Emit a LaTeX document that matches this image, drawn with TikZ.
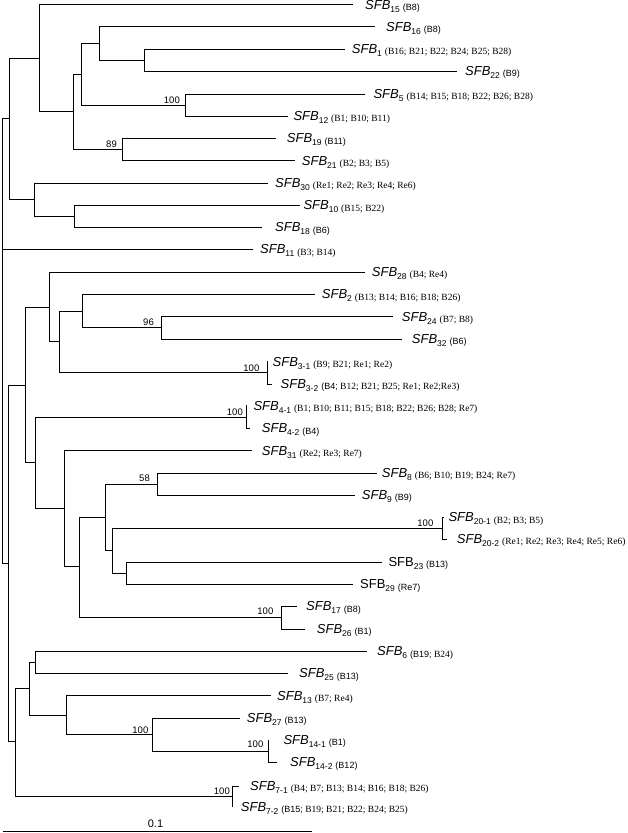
\documentclass[tikz,border=0pt]{standalone}
\usepackage{fontspec}
\setmainfont{Liberation Serif}
\setsansfont{Liberation Sans}
\newcommand{\Si}[1]{{\itshape SFB}\raisebox{-2.9pt}{\fontsize{8.5}{9}\selectfont #1}}
\newcommand{\Su}[1]{SFB\raisebox{-2.9pt}{\fontsize{8.5}{9}\selectfont #1}}
\newcommand{\pS}[1]{\hspace{3pt}\raisebox{-1.2pt}{\fontsize{9}{10}\selectfont\sffamily #1}}
\newcommand{\pR}[1]{\hspace{3pt}\raisebox{-1.2pt}{\fontsize{9.5}{10}\selectfont\rmfamily #1}}
\newcommand{\pRn}[1]{\hspace{2.4pt}\raisebox{-1.2pt}{\fontsize{9.5}{10}\selectfont\rmfamily #1}}
\newcommand{\leaf}[5]{\coordinate (#1) at (#2,#3); \node[lab] (t#1) at (#4,#3+4.6) {#5};}
\tikzset{
  br/.style={line width=0.9pt, line join=miter},
  lab/.style={anchor=base west, inner sep=0pt, font=\sffamily\fontsize{13}{14}\selectfont},
  bs/.style={anchor=base east, inner sep=0pt, font=\sffamily\fontsize{9.5}{10}\selectfont},
}
\begin{document}
\begin{tikzpicture}[x=1pt,y=-1pt]
\useasboundingbox (0,0) rectangle (627,833);
% leaves
\leaf{l15}{353.3}{4.5}{365}{\Si{15}\pS{(B8)}}
\leaf{l16}{375}{26.7}{386}{\Si{16}\pS{(B8)}}
\leaf{l1}{345}{49}{351.7}{\Si{1}\pR{(B16; B21; B22; B24; B25; B28)}}
\leaf{l22}{456.7}{71}{465}{\Si{22}\pS{(B9)}}
\leaf{l5}{365}{94}{373.3}{\Si{5}\pR{(B14; B15; B18; B22; B26; B28)}}
\leaf{l12}{288.3}{116}{293.3}{\Si{12}\pR{(B1; B10; B11)}}
\leaf{l19}{276}{138.3}{286.7}{\Si{19}\pS{(B11)}}
\leaf{l21}{295}{160.7}{301.7}{\Si{21}\pR{(B2; B3; B5)}}
\leaf{l30}{268.3}{183}{275}{\Si{30}\pR{(Re1; Re2; Re3; Re4; Re6)}}
\leaf{l10}{300}{205.3}{303.3}{\Si{10}\pR{(B15; B22)}}
\leaf{l18}{261.7}{227.3}{275}{\Si{18}\pS{(B6)}}
\leaf{l11}{253}{249.3}{260}{\Si{11}\pR{(B3; B14)}}
\leaf{l28}{365}{272}{371.7}{\Si{28}\pR{(B4; Re4)}}
\leaf{l2}{315}{294.3}{321.7}{\Si{2}\pR{(B13; B14; B16; B18; B26)}}
\leaf{l24}{393.3}{316.7}{401.7}{\Si{24}\pR{(B7; B8)}}
\leaf{l32}{401.7}{339}{411.7}{\Si{32}\pS{(B6)}}
\leaf{l3a}{267.5}{361.7}{272.5}{\Si{3-1}\pR{(B9; B21; Re1; Re2)}}
\leaf{l3b}{271.7}{384}{280.5}{\Si{3-2}\pS{(B4;}\pRn{B12; B21; B25; Re1; Re2;Re3)}}
\leaf{l4a}{246.5}{405.7}{253.3}{\Si{4-1}\pR{(B1; B10; B11; B15; B18; B22; B26; B28; Re7)}}
\leaf{l4b}{250}{428.3}{261.7}{\Si{4-2}\pS{(B4)}}
\leaf{l31}{251.7}{450.7}{261.7}{\Si{31}\pR{(Re2; Re3; Re7)}}
\leaf{l8}{376.7}{473}{381.7}{\Si{8}\pR{(B6; B10; B19; B24; Re7)}}
\leaf{l9}{355}{495}{361.7}{\Si{9}\pS{(B9)}}
\leaf{l20a}{443.5}{517.3}{448.3}{\Si{20-1}\pR{(B2; B3; B5)}}
\leaf{l20b}{446.7}{539}{456.7}{\Si{20-2}\pR{(Re1; Re2; Re3; Re4; Re5; Re6)}}
\leaf{l23}{381.7}{562}{388.3}{\Su{23}\pS{(B13)}}
\leaf{l29}{353.3}{584.3}{360}{\Su{29}\pS{(Re7)}}
\leaf{l17}{296.7}{606.3}{306}{\Si{17}\pS{(B8)}}
\leaf{l26}{305}{629}{316.7}{\Si{26}\pS{(B1)}}
\leaf{l6}{367}{651.3}{377}{\Si{6}\pS{(B19;}\pRn{B24)}}
\leaf{l25}{288.3}{673.3}{299}{\Si{25}\pS{(B13)}}
\leaf{l13}{271}{695.7}{277}{\Si{13}\pR{(B7; Re4)}}
\leaf{l27}{240}{718}{246.7}{\Si{27}\pS{(B13)}}
\leaf{l14a}{268.5}{740}{283.3}{\Si{14-1}\pS{(B1)}}
\leaf{l14b}{276.7}{762.3}{290}{\Si{14-2}\pS{(B12)}}
\leaf{l7a}{239.3}{786}{250}{\Si{7-1}\pR{(B4; B7; B13; B14; B16; B18; B26)}}
\leaf{l7b}{232.3}{806.7}{240.7}{\Si{7-2}\pS{(B15;}\pRn{B19; B21; B22; B24; B25)}}
% internal nodes
\coordinate (root) at (2.7,340);
\coordinate (H) at (9,118.3);
\coordinate (A) at (39.3,58);
\coordinate (F) at (73.3,111.7);
\coordinate (D) at (81,74.2);
\coordinate (B) at (99.3,43.3);
\coordinate (C) at (144,60);
\coordinate (E) at (185,105);
\coordinate (G) at (122.3,149.5);
\coordinate (I) at (34,199.5);
\coordinate (J) at (74,216.3);
\coordinate (K) at (8.3,563);
\coordinate (L) at (25,385);
\coordinate (N) at (49,307.3);
\coordinate (P) at (59,341.7);
\coordinate (Q) at (82,311);
\coordinate (S) at (161.3,327.7);
\coordinate (R) at (267,372.7);
\coordinate (O) at (35.7,462.3);
\coordinate (T) at (246,417);
\coordinate (U) at (64,508.3);
\coordinate (V) at (79,566.7);
\coordinate (W) at (105,517);
\coordinate (Y) at (157.3,484);
\coordinate (Z) at (112.7,550.7);
\coordinate (AA) at (442,528);
\coordinate (AB) at (126,573);
\coordinate (X) at (281,617.5);
\coordinate (M) at (15,741.7);
\coordinate (AC) at (29,688.5);
\coordinate (AD) at (35.7,662.5);
\coordinate (AE) at (66,715);
\coordinate (AF) at (152.3,734);
\coordinate (AG) at (268.3,751);
\coordinate (SV) at (232,796);
% branches
\draw[br] (root) |- (H);  \draw[br] (root) |- (l11); \draw[br] (root) |- (K);
\draw[br] (H) |- (A); \draw[br] (H) |- (I);
\draw[br] (A) |- (l15); \draw[br] (A) |- (F);
\draw[br] (F) |- (D); \draw[br] (F) |- (G);
\draw[br] (D) |- (B); \draw[br] (D) |- (E);
\draw[br] (B) |- (l16); \draw[br] (B) |- (C);
\draw[br] (C) |- (l1); \draw[br] (C) |- (l22);
\draw[br] (E) |- (l5); \draw[br] (E) |- (l12);
\draw[br] (G) |- (l19); \draw[br] (G) |- (l21);
\draw[br] (I) |- (l30); \draw[br] (I) |- (J);
\draw[br] (J) |- (l10); \draw[br] (J) |- (l18);
\draw[br] (K) |- (L); \draw[br] (K) |- (M);
\draw[br] (L) |- (N); \draw[br] (L) |- (O);
\draw[br] (N) |- (l28); \draw[br] (N) |- (P);
\draw[br] (P) |- (Q); \draw[br] (P) |- (R);
\draw[br] (Q) |- (l2); \draw[br] (Q) |- (S);
\draw[br] (S) |- (l24); \draw[br] (S) |- (l32);
\draw[br] (R) |- (l3a); \draw[br] (R) |- (l3b);
\draw[br] (O) |- (T); \draw[br] (O) |- (U);
\draw[br] (T) |- (l4a); \draw[br] (T) |- (l4b);
\draw[br] (U) |- (l31); \draw[br] (U) |- (V);
\draw[br] (V) |- (W); \draw[br] (V) |- (X);
\draw[br] (W) |- (Y); \draw[br] (W) |- (Z);
\draw[br] (Y) |- (l8); \draw[br] (Y) |- (l9);
\draw[br] (Z) |- (AA); \draw[br] (Z) |- (AB);
\draw[br] (AA) |- (l20a); \draw[br] (AA) |- (l20b);
\draw[br] (AB) |- (l23); \draw[br] (AB) |- (l29);
\draw[br] (X) |- (l17); \draw[br] (X) |- (l26);
\draw[br] (M) |- (AC); \draw[br] (M) |- (SV);
\draw[br] (AC) |- (AD); \draw[br] (AC) |- (AE);
\draw[br] (AD) |- (l6); \draw[br] (AD) |- (l25);
\draw[br] (AE) |- (l13); \draw[br] (AE) |- (AF);
\draw[br] (AF) |- (l27); \draw[br] (AF) |- (AG);
\draw[br] (AG) |- (l14a); \draw[br] (AG) |- (l14b);
\draw[br] (SV) |- (l7a); \draw[br] (SV) |- (l7b);
% bootstrap values
\node[bs] (bE) at (180,103.3) {100};
\node[bs] (bG) at (117,147) {89};
\node[bs] (bS) at (154,325.5) {96};
\node[bs] (bR) at (259.5,371) {100};
\node[bs] (bT) at (243,415) {100};
\node[bs] (bY) at (150,481.5) {58};
\node[bs] (bAA) at (433.5,526) {100};
\node[bs] (bX) at (273.5,614.5) {100};
\node[bs] (bAF) at (148.5,733) {100};
\node[bs] (bAG) at (263.5,747) {100};
\node[bs] (bSV) at (230,794) {100};
% scale bar
\coordinate (sb1) at (3,831.6);
\coordinate (sb2) at (311.7,831.6);
\draw[line width=1.1pt] (sb1) -- (sb2);
\node[anchor=base, inner sep=0pt, font=\sffamily\fontsize{11}{12}\selectfont] (sbl) at (155.5,827.5) {0.1};
\end{tikzpicture}
\end{document}
